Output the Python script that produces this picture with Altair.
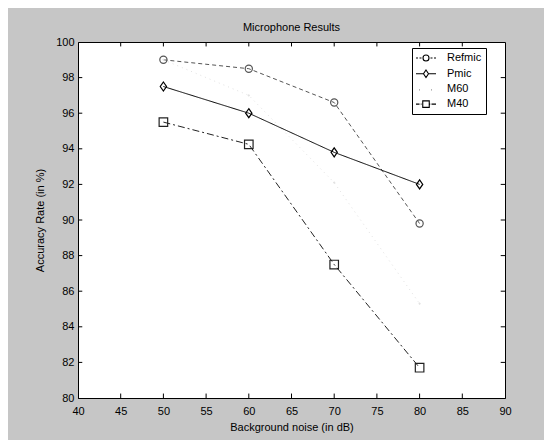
import altair as alt
import pandas as pd

# ---- data ----
noise = [50, 60, 70, 80]
refmic = [99.0, 98.5, 96.6, 89.8]
pmic = [97.5, 96.0, 93.8, 92.0]
m60 = [99.0, 97.0, 92.1, 85.3]
m40 = [95.5, 94.25, 87.5, 81.7]
series_names = ["Refmic", "Pmic", "M60", "M40"]
x_ticks = list(range(40, 95, 5))
y_ticks = list(range(80, 102, 2))

rows = []
for name, vals in zip(series_names, [refmic, pmic, m60, m40]):
    for xv, v in zip(noise, vals):
        rows.append({"noise": xv, "acc": v, "series": name})
df = pd.DataFrame(rows)

FONT = "Liberation Sans"
line_colors = ["#555555", "#000000", "#e2e2e2", "#222222"]
dashes = [[4, 3], [1, 0], [1, 4], [7, 3, 2, 3]]
marker_paths = [
    "M-0.8,0a0.8,0.8 0 1,0 1.6,0a0.8,0.8 0 1,0 -1.6,0",
    "M0,-1L0.7,0L0,1L-0.7,0Z",
    "M0,-0.1L0.1,0L0,0.1L-0.1,0Z",
    "M-0.95,-0.95H0.95V0.95H-0.95Z",
]
legend_paths = [
    "M-2,0H-1.6M-1.3,0H-0.9M0.9,0H1.3M1.6,0H2M-0.6,0a0.6,0.6 0 1,0 1.2,0a0.6,0.6 0 1,0 -1.2,0",
    "M-2,0H-0.5M0.5,0H2M0,-0.75L0.5,0L0,0.75L-0.5,0Z",
    "M-1.3,0.1h0.08M1.1,0.1h0.08",
    "M-2,0H-1.3M-1.05,0H-0.9M0.7,0H0.85M1.1,0H2M-0.65,-0.65H0.65V0.65H-0.65Z",
]

xs = alt.Scale(domain=[40, 90], nice=False, zero=False)
ys = alt.Scale(domain=[80, 100], nice=False, zero=False)

x_axis = alt.Axis(values=x_ticks, title="Background noise (in dB)", ticks=False, tickSize=0,
                  labelFlush=False, labelOverlap=False, labelPadding=7, titlePadding=5, grid=False)
y_axis = alt.Axis(values=y_ticks, title="Accuracy Rate (in %)", ticks=False, tickSize=0,
                  labelFlush=False, labelOverlap=False, labelPadding=4, titlePadding=10, grid=False)

color_scale = alt.Scale(domain=series_names, range=line_colors)

lines = alt.Chart(df).mark_line(strokeWidth=1).encode(
    x=alt.X("noise:Q", scale=xs, axis=x_axis),
    y=alt.Y("acc:Q", scale=ys, axis=y_axis),
    color=alt.Color("series:N", scale=color_scale, legend=None),
    strokeDash=alt.StrokeDash("series:N", scale=alt.Scale(domain=series_names, range=dashes), legend=None),
    detail="series:N",
)

points = alt.Chart(df).mark_point(filled=False, size=81, strokeWidth=1.2, opacity=1).encode(
    x=alt.X("noise:Q", scale=xs, axis=x_axis),
    y=alt.Y("acc:Q", scale=ys, axis=y_axis),
    color=alt.Color("series:N", scale=color_scale, legend=None),
    shape=alt.Shape("series:N", scale=alt.Scale(domain=series_names, range=marker_paths), legend=None),
)

legend_layer = alt.Chart(df).transform_filter("false").mark_point(
    filled=False, size=144, color="black", strokeWidth=1.1, opacity=1
).encode(
    x=alt.X("noise:Q", scale=xs, axis=x_axis),
    y=alt.Y("acc:Q", scale=ys, axis=y_axis),
    shape=alt.Shape(
        "series:N",
        scale=alt.Scale(domain=series_names, range=legend_paths),
        legend=alt.Legend(
            title=None, orient="none", legendX=334, legendY=6,
            padding=4, symbolOffset=4, labelOffset=15, rowPadding=3.7,
            strokeColor="black", fillColor="white", cornerRadius=0,
            labelFont=FONT, labelFontSize=11, labelColor="black",
            symbolStrokeColor="black", symbolStrokeWidth=1.1,
            labelExpr="datum.label + '\u00a0\u00a0\u00a0\u00a0'",
        ),
    ),
)

tick_x = pd.DataFrame({"t": x_ticks[1:-1]})
tick_y = pd.DataFrame({"t": y_ticks[1:-1]})

xb = alt.Chart(tick_x).mark_rule(color="black", strokeWidth=1).encode(
    x=alt.X("t:Q", scale=xs, axis=x_axis), y=alt.Y(datum=80, axis=y_axis), y2=alt.datum(80.25))
xt = alt.Chart(tick_x).mark_rule(color="black", strokeWidth=1).encode(
    x=alt.X("t:Q", scale=xs, axis=x_axis), y=alt.Y(datum=100, axis=y_axis), y2=alt.datum(99.75))
yl = alt.Chart(tick_y).mark_rule(color="black", strokeWidth=1).encode(
    y=alt.Y("t:Q", scale=ys, axis=y_axis), x=alt.X(datum=40, axis=x_axis), x2=alt.datum(40.5))
yr = alt.Chart(tick_y).mark_rule(color="black", strokeWidth=1).encode(
    y=alt.Y("t:Q", scale=ys, axis=y_axis), x=alt.X(datum=90, axis=x_axis), x2=alt.datum(89.5))

chart = alt.layer(lines, xb, xt, yl, yr, points, legend_layer).resolve_scale(
    shape="independent"
).properties(
    width=427,
    height=356,
    title=alt.TitleParams("Microphone Results", fontSize=11, fontWeight="normal", font=FONT,
                          color="black", offset=3, anchor="middle"),
    autosize=alt.AutoSizeParams(type="none"),
    padding={"left": 70, "top": 34, "right": 39, "bottom": 42},
    background="#c6c6c6",
).configure_view(
    stroke="black", strokeWidth=1, fill="white"
).configure_axis(
    domainColor="black", labelColor="black", titleColor="black",
    labelFont=FONT, titleFont=FONT, labelFontSize=11, titleFontSize=11,
    titleFontWeight="normal",
)

chart.save("out.html", embed_options={"renderer": "svg", "actions": False})
